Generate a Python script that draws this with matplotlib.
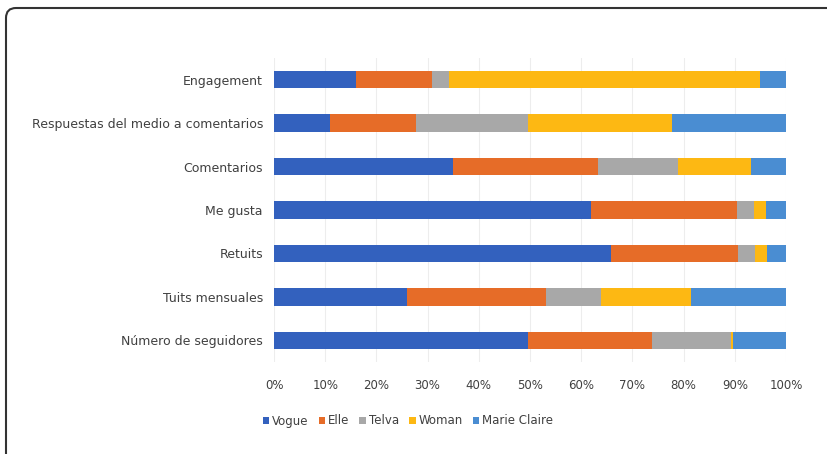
import numpy as np
import matplotlib.pyplot as plt
from matplotlib.path import Path
from matplotlib.patches import PathPatch

categorias = ["Engagement", "Respuestas del medio a comentarios", "Comentarios",
              "Me gusta", "Retuits", "Tuits mensuales", "Número de seguidores"]
series = ["Vogue", "Elle", "Telva", "Woman", "Marie Claire"]

# porcentajes por categoria (en orden de categorias)
vogue = [16.1, 10.9, 35.0, 61.9, 65.9, 26.0, 49.7]
elle = [14.8, 16.8, 28.2, 28.5, 24.7, 27.2, 24.1]
telva = [3.2, 22.0, 15.7, 3.4, 3.4, 10.7, 15.5]
woman = [60.9, 28.0, 14.2, 2.2, 2.3, 17.6, 0.3]
marie_claire = [5.0, 22.3, 6.9, 4.0, 3.7, 18.5, 10.4]

colores = ["#3361BE", "#E66C28", "#A8A8A8", "#FDB813", "#4A8DD2"]

fig = plt.figure(figsize=(8.27, 4.54), dpi=100)
ax = fig.add_axes([274/827, 1 - 362/454, (786-274)/827, (362-58)/454])

datos = [vogue, elle, telva, woman, marie_claire]
y = np.arange(len(categorias))
izq = np.zeros(len(categorias))
for nombre, vals, c in zip(series, datos, colores):
    vals = np.array(vals)
    ax.barh(y, vals, left=izq, height=0.4, color=c, label=nombre)
    izq = izq + vals

ax.set_xlim(0, 100)
ax.set_ylim(len(categorias) - 0.5, -0.5)
ax.set_yticks(y)
ax.set_yticklabels(categorias, fontsize=9, color="#404040")
ax.set_xticks(np.arange(0, 101, 10))
ax.set_xticklabels([f"{v}%" for v in range(0, 101, 10)], fontsize=8.5, color="#404040")
ax.tick_params(length=0, pad=12)
ax.tick_params(axis="y", pad=8)
for s in ax.spines.values():
    s.set_visible(False)
ax.grid(axis="x", color="#EDEDED", lw=0.8)
ax.set_axisbelow(True)

fig.legend(loc="center left", bbox_to_anchor=(252/827, 1 - 421/454), ncol=5,
           frameon=False, fontsize=8.5, handlelength=0.55, handleheight=0.55,
           handletextpad=0.25, columnspacing=0.85, labelcolor="#404040")

# marco redondeado (solo esquina superior izquierda visible)
x0, y0, r = 6, 8, 10
pts = [(x0, 460), (x0, y0 + r), (x0, y0), (x0 + r, y0), (830, y0)]
pts = [(px / 827, 1 - py / 454) for px, py in pts]
codes = [Path.MOVETO, Path.LINETO, Path.CURVE3, Path.CURVE3, Path.LINETO]
marco = PathPatch(Path(pts, codes), transform=fig.transFigure, fill=False,
                  edgecolor="#333333", lw=1.5, clip_on=False)
fig.patches.append(marco)

fig.savefig("out.png", dpi=100)
